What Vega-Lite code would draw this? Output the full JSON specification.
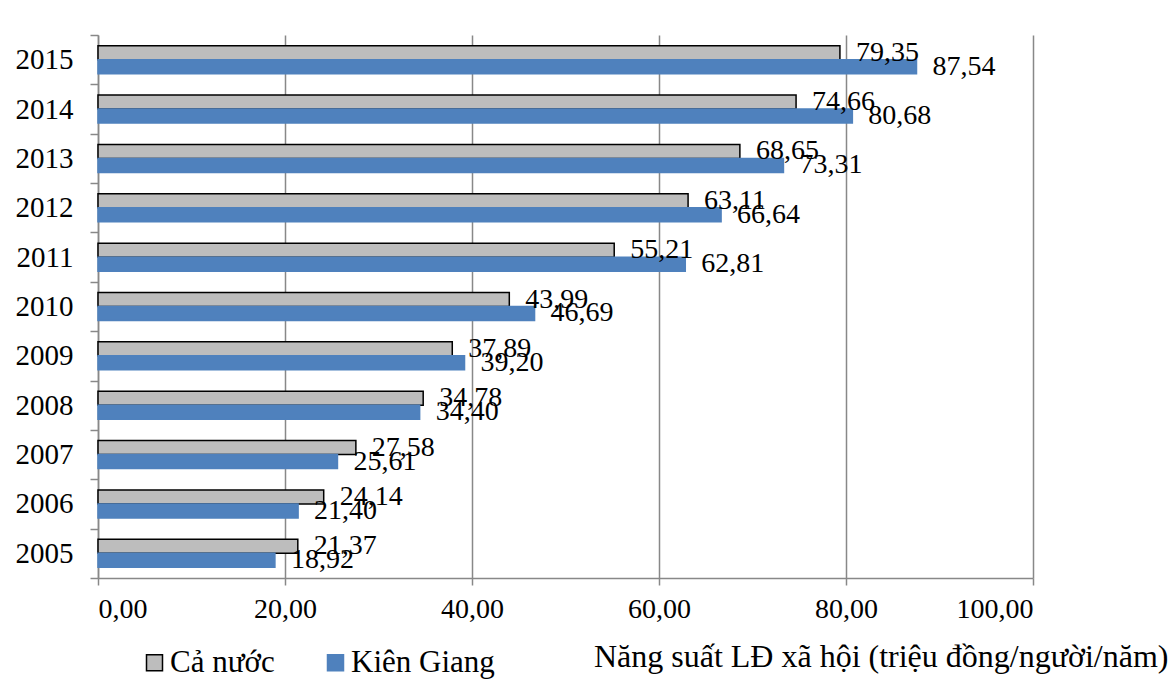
{
  "$schema": "https://vega.github.io/schema/vega-lite/v6.json",
  "width": 935,
  "height": 543,
  "autosize": "none",
  "padding": {"left": 98, "top": 35, "right": 142, "bottom": 107},
  "background": "white",
  "config": {
    "locale": {"number": {"decimal": ",", "thousands": ".", "grouping": [3], "currency": ["", ""]}},
    "font": "Liberation Serif",
    "view": {"stroke": null}
  },
  "data": {
    "values": [
      {"year": 2015, "series": "Cả nước", "value": 79.35},
      {"year": 2015, "series": "Kiên Giang", "value": 87.54},
      {"year": 2014, "series": "Cả nước", "value": 74.66},
      {"year": 2014, "series": "Kiên Giang", "value": 80.68},
      {"year": 2013, "series": "Cả nước", "value": 68.65},
      {"year": 2013, "series": "Kiên Giang", "value": 73.31},
      {"year": 2012, "series": "Cả nước", "value": 63.11},
      {"year": 2012, "series": "Kiên Giang", "value": 66.64},
      {"year": 2011, "series": "Cả nước", "value": 55.21},
      {"year": 2011, "series": "Kiên Giang", "value": 62.81},
      {"year": 2010, "series": "Cả nước", "value": 43.99},
      {"year": 2010, "series": "Kiên Giang", "value": 46.69},
      {"year": 2009, "series": "Cả nước", "value": 37.89},
      {"year": 2009, "series": "Kiên Giang", "value": 39.20},
      {"year": 2008, "series": "Cả nước", "value": 34.78},
      {"year": 2008, "series": "Kiên Giang", "value": 34.40},
      {"year": 2007, "series": "Cả nước", "value": 27.58},
      {"year": 2007, "series": "Kiên Giang", "value": 25.61},
      {"year": 2006, "series": "Cả nước", "value": 24.14},
      {"year": 2006, "series": "Kiên Giang", "value": 21.40},
      {"year": 2005, "series": "Cả nước", "value": 21.37},
      {"year": 2005, "series": "Kiên Giang", "value": 18.92}
    ]
  },
  "encoding": {
    "y": {
      "field": "year", "type": "ordinal", "sort": "descending",
      "scale": {"paddingInner": 0, "paddingOuter": 0},
      "axis": {
        "title": null, "labelFontSize": 29, "labelPadding": 17, "tickSize": 8,
        "tickBand": "extent", "grid": false, "domainColor": "#888888", "tickColor": "#888888",
        "domainWidth": 1.5, "tickWidth": 1.5, "labelColor": "black"
      }
    },
    "yOffset": {
      "field": "series", "type": "nominal", "sort": ["Cả nước", "Kiên Giang"],
      "scale": {"paddingInner": 0, "paddingOuter": 0.764}
    },
    "x": {
      "field": "value", "type": "quantitative",
      "scale": {"domain": [0, 100], "nice": false},
      "axis": {
        "values": [0, 20, 40, 60, 80, 100], "format": ".2f",
        "title": "Năng suất LĐ xã hội (triệu đồng/người/năm)",
        "titleX": 1070, "titleY": 88, "titleAlign": "right", "titleBaseline": "alphabetic",
        "titleFontSize": 32, "titleFontWeight": "normal", "titleColor": "black",
        "labelFontSize": 28, "labelPadding": 10, "labelColor": "black",
        "tickSize": 7, "tickColor": "#888888", "tickWidth": 1.5,
        "domainColor": "#888888", "domainWidth": 1.5,
        "gridColor": "#888888", "gridWidth": 1.5
      }
    }
  },
  "layer": [
    {
      "mark": {"type": "bar", "strokeWidth": 1.5},
      "encoding": {
        "fill": {
          "field": "series", "type": "nominal",
          "scale": {"domain": ["Cả nước", "Kiên Giang"], "range": ["#bdbdbd", "#4F81BD"]},
          "legend": {
            "orient": "none", "legendX": 41, "legendY": 612, "direction": "horizontal",
            "title": null, "labelFontSize": 31, "labelColor": "black", "symbolType": "square",
            "symbolSize": 256, "columnPadding": 45, "labelOffset": 0, "symbolStrokeWidth": 1.5
          }
        },
        "stroke": {
          "field": "series", "type": "nominal",
          "scale": {"domain": ["Cả nước", "Kiên Giang"], "range": ["#000000", "#4F81BD"]},
          "legend": {
            "orient": "none", "legendX": 41, "legendY": 612, "direction": "horizontal",
            "title": null, "labelFontSize": 31, "labelColor": "black", "symbolType": "square",
            "symbolSize": 256, "columnPadding": 45, "labelOffset": 0, "symbolStrokeWidth": 1.5
          }
        }
      }
    },
    {
      "mark": {"type": "text", "align": "left", "baseline": "middle", "dx": 16, "fontSize": 28, "color": "black"},
      "encoding": {
        "text": {"field": "value", "type": "quantitative", "format": ".2f"}
      }
    }
  ]
}
